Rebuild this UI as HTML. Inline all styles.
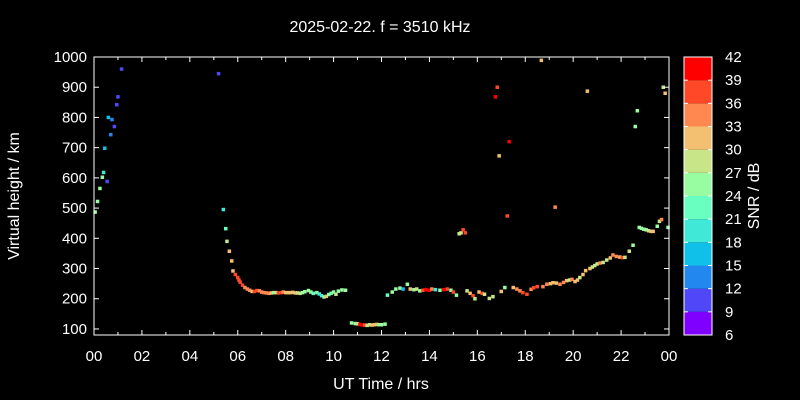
<!DOCTYPE html>
<html><head><meta charset="utf-8"><style>
html,body{margin:0;padding:0;background:#000;}
svg{display:block;font-family:"Liberation Sans",sans-serif;}
</style></head><body>
<svg id="chart" width="800" height="400" xmlns="http://www.w3.org/2000/svg">
<rect width="800" height="400" fill="#000"/>
<text x="380" y="32" fill="#fff" font-size="16" text-anchor="middle">2025-02-22. f = 3510 kHz</text>
<text x="381" y="389" fill="#fff" font-size="16" text-anchor="middle">UT Time / hrs</text>
<text x="0" y="0" transform="translate(19,196) rotate(-90)" fill="#fff" font-size="16" text-anchor="middle">Virtual height / km</text>
<text x="0" y="0" transform="translate(759,196) rotate(-90)" fill="#fff" font-size="16" text-anchor="middle">SNR / dB</text>
<g id="marks"></g>
<g id="axes"></g>
<g id="cbar"></g>
</svg>
<script>
const hours = [0.05,0.15,0.25,0.35,0.4,0.45,0.55,0.6,0.7,0.75,0.85,0.95,1.0,1.15,5.2,
5.4,5.5,5.55,5.65,5.75,5.8,5.9,6.0,6.05,6.1,6.2,6.3,6.4,6.5,6.6,6.7,6.8,6.9,7.0,7.1,7.2,7.3,7.4,7.5,7.6,7.7,7.8,7.9,8.0,8.1,8.2,8.3,8.4,8.5,8.6,8.7,8.8,8.95,9.05,9.15,9.3,9.4,9.5,9.6,9.7,9.8,9.9,10.0,10.1,10.2,10.35,10.5,
10.75,10.9,11.0,11.1,11.2,11.3,11.4,11.5,11.6,11.7,11.8,11.9,12.0,12.15,
12.25,12.45,12.6,12.77,12.9,13.08,13.2,13.35,13.47,13.6,13.73,13.85,14.0,14.1,14.25,14.44,14.6,14.75,14.9,15.0,15.13,
15.24,15.32,15.41,15.5,15.57,15.7,15.82,15.9,16.07,16.2,16.3,16.5,16.65,16.75,16.83,16.91,17.0,17.15,17.25,17.33,17.5,17.65,17.78,17.9,18.07,18.24,18.35,18.5,18.67,18.74,18.9,19.05,19.16,19.25,19.3,19.45,19.6,19.73,19.85,19.95,20.08,20.18,20.28,20.41,20.52,20.59,20.7,20.8,20.9,21.0,21.12,21.25,21.4,21.55,21.66,21.8,21.95,22.05,22.16,22.34,22.5,22.59,22.68,22.76,22.85,22.95,23.05,23.15,23.25,23.34,23.51,23.6,23.69,23.76,23.84,23.96];
const heights = [487,522,565,602,618,698,588,800,743,793,770,842,868,960,945,
495,432,390,357,325,292,280,270,262,255,245,237,232,228,224,224,227,226,222,220,219,218,219,220,220,219,220,222,220,220,220,221,219,219,218,220,223,227,222,218,220,216,210,206,208,214,218,222,215,225,229,228,
120,118,117,115,113,113,112,114,113,114,115,114,114,116,
212,222,232,235,232,248,232,230,232,226,228,230,228,232,230,228,230,232,228,222,212,
415,418,428,418,226,218,210,200,222,218,215,201,207,868,900,673,224,237,474,720,237,232,226,220,215,231,236,240,989,240,248,250,253,503,252,248,254,260,262,264,257,262,270,280,293,887,300,305,310,315,318,320,328,335,345,340,338,336,337,357,377,770,822,436,433,430,428,425,423,423,440,456,462,900,880,436];
const snrs = [25,25,24,24,20,16,10,15,14,14,10,11,10,10,10,
20,23,27,31,32,31,37,36,37,38,36,35,34,33,32,36,37,35,35,34,34,33,31,24,27,36,37,33,31,31,30,31,30,28,27,24,25,25,26,22,24,18,20,24,31,24,23,25,28,25,24,24,
24,26,28,40,40,36,27,28,31,31,31,24,24,26,
22,24,26,24,17,24,31,24,27,24,38,40,40,34,19,24,40,38,24,37,24,
27,27,37,37,27,31,37,28,31,36,28,28,28,40,36,31,31,24,37,40,32,33,34,36,38,35,37,37,31,33,33,32,32,34,31,34,33,31,27,33,32,31,28,32,31,31,31,27,28,27,34,28,27,31,34,33,32,36,28,27,24,24,24,24,25,25,26,27,30,31,24,27,34,27,31,24];
const cbarTicks = [6,9,12,15,18,21,24,27,30,33,36,39,42];
const yTicks = [100,200,300,400,500,600,700,800,900,1000];
const xTicks = [0,2,4,6,8,10,12,14,16,18,20,22,24];
const palette = ["#8000ff","#5048f8","#2288f0","#10c0e8","#40e8d8","#68ffc0","#98fca0","#c8e688","#f2c070","#ff8850","#ff4828","#ff0000"];

const NS="http://www.w3.org/2000/svg";
const L=94,R=669,T=57,B=335;
const xS=h=>L+(h/24)*(R-L);
const yS=v=>B-(v-80)/(1000-80)*(B-T);
const CB={x:684,w:28};
const cS=v=>B-(v-6)/(42-6)*(B-T);
function mk(tag,attrs,parent){const e=document.createElementNS(NS,tag);for(const k in attrs)e.setAttribute(k,attrs[k]);parent.appendChild(e);return e;}
function col(s){let i=Math.floor((s-6)/3);i=Math.max(0,Math.min(11,i));return palette[i];}

const marks=document.getElementById('marks');
for(let i=0;i<hours.length;i++){
  const r=mk('rect',{x:(xS(hours[i])-1.75).toFixed(1),y:(yS(heights[i])-1.75).toFixed(1),width:3.5,height:3.5,fill:col(snrs[i])},marks);
  
  
}
const ax=document.getElementById('axes');
const frame=mk('rect',{x:L,y:T,width:R-L,height:B-T,fill:'none',stroke:'#fff','stroke-width':1},ax);


yTicks.forEach(v=>{
  const y=yS(v);
  mk('line',{x1:L,x2:L+5,y1:y,y2:y,stroke:'#fff'},ax);
  mk('line',{x1:R,x2:R-5,y1:y,y2:y,stroke:'#fff'},ax);
  const t=mk('text',{x:L-7,y:y+5,fill:'#fff','font-size':15,'text-anchor':'end'},ax);
  t.textContent=v;
  
  
});
for(let h=0;h<=24;h++){
  const x=xS(h),len=(h%2===0)?5:3;
  mk('line',{x1:x,x2:x,y1:B,y2:B-len,stroke:'#fff'},ax);
  mk('line',{x1:x,x2:x,y1:T,y2:T+len,stroke:'#fff'},ax);
}
xTicks.forEach(h=>{
  const t=mk('text',{x:xS(h),y:361,fill:'#fff','font-size':15,'text-anchor':'middle'},ax);
  t.textContent=String(h%24).padStart(2,'0');
  
  
});
const cb=document.getElementById('cbar');
for(let i=0;i<palette.length;i++){
  const lo=cbarTicks[i],hi=cbarTicks[i+1];
  const r=mk('rect',{x:CB.x,y:cS(hi),width:CB.w,height:cS(lo)-cS(hi),fill:palette[i]},cb);
  
  
}
mk('rect',{x:CB.x,y:T,width:CB.w,height:B-T,fill:'none',stroke:'#fff'},cb);
cbarTicks.forEach(v=>{
  const y=cS(v);
  mk('line',{x1:CB.x,x2:CB.x+4,y1:y,y2:y,stroke:'#fff'},cb);
  mk('line',{x1:CB.x+CB.w,x2:CB.x+CB.w-4,y1:y,y2:y,stroke:'#fff'},cb);
  const t=mk('text',{x:725,y:y+5,fill:'#fff','font-size':15},cb);
  t.textContent=v;
  
  
});
</script>
</body></html>
